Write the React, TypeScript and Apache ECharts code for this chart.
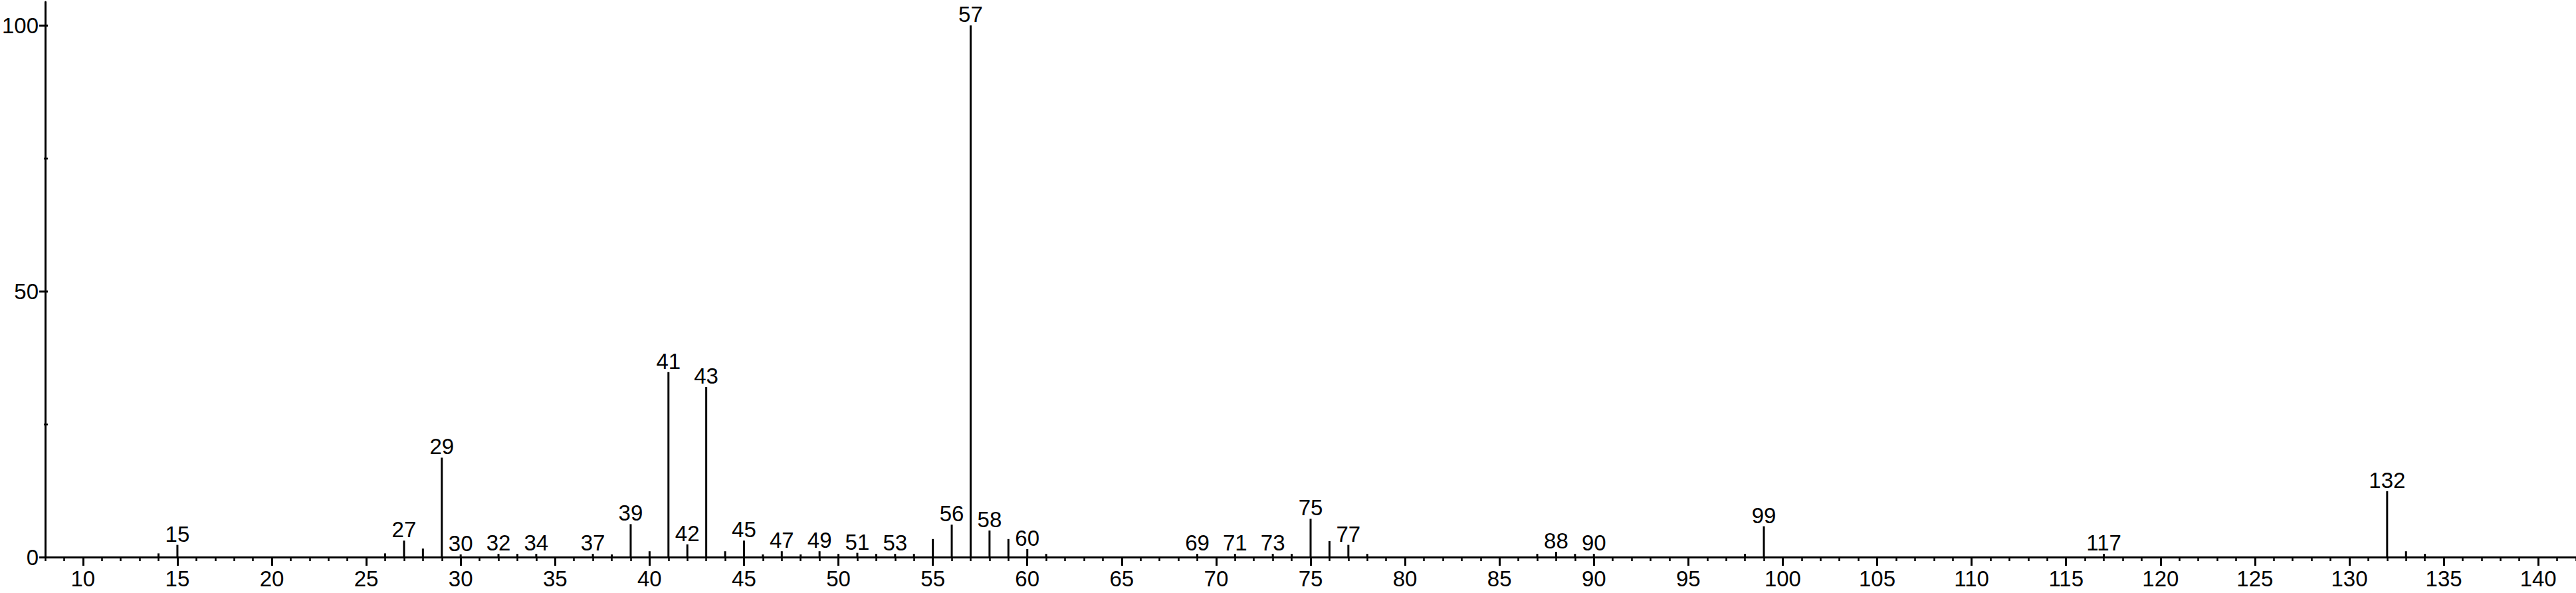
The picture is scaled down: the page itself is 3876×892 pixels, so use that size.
import React, { useEffect, useRef } from "react";
import * as echarts from "echarts";

// m/z range shown on the x axis
const massMin = 8;
const massMax = 142;

// Peaks (m/z) and relative intensities (%)
const peakMasses = [
  14, 15, 26, 27, 28, 29, 30, 32, 33, 34, 37, 38, 39, 40, 41, 42, 43, 44, 45, 46,
  47, 48, 49, 50, 51, 52, 53, 54, 55, 56, 57, 58, 59, 60, 61, 69, 71, 73, 74, 75,
  76, 77, 78, 87, 88, 89, 90, 98, 99, 117, 132, 133, 134,
];
const peakIntensities = [
  0.7, 2.3, 0.7, 3.1, 1.6, 18.7, 0.5, 0.6, 0.6, 0.6, 0.6, 0.5, 6.2, 1.1, 34.8, 2.4, 32.0, 1.1, 3.1, 0.5,
  1.1, 0.5, 1.1, 0.6, 0.8, 0.6, 0.6, 0.6, 3.4, 6.1, 100, 5.0, 3.4, 1.5, 0.6, 0.6, 0.6, 0.6, 0.6, 7.2,
  3.0, 2.3, 0.6, 0.6, 1.0, 0.6, 0.6, 0.6, 5.8, 0.6, 12.4, 1.1, 0.6,
];
// Peaks that carry an m/z label
const labeledMasses = [
  15, 27, 29, 30, 32, 34, 37, 39, 41, 42, 43, 45, 47, 49, 51, 53, 56, 57, 58, 60,
  69, 71, 73, 75, 77, 88, 90, 99, 117, 132,
];
// y axis
const yMax = 100;
const yLabelStep = 50;

const FONT = "'Liberation Sans', Arial, sans-serif";

export default function App() {
  const ref = useRef<HTMLDivElement>(null);

  useEffect(() => {
    document.body.style.margin = "0";
    const el = ref.current;
    if (!el) return;
    const chart = echarts.init(el, null, { renderer: "svg" });

    const categories: string[] = [];
    for (let m = massMin; m <= massMax; m++) categories.push(String(m));

    const data = categories.map((c) => {
      const m = Number(c);
      const i = peakMasses.indexOf(m);
      return {
        value: i >= 0 ? peakIntensities[i] : "-",
        label: { show: labeledMasses.includes(m) },
      };
    });

    const line = { color: "#000", width: 3 };
    const isMajor = (_i: number, v: string) => Number(v) % 5 === 0;

    chart.setOption({
      animation: false,
      backgroundColor: "#fff",
      textStyle: { fontFamily: FONT },
      grid: [
        { left: 68, right: 0, top: 3, bottom: 54 },
        { left: 68, right: 0, top: 38, bottom: 54 },
      ],
      xAxis: [
        {
          type: "category",
          gridIndex: 0,
          position: "bottom",
          data: categories,
          boundaryGap: false,
          axisLine: { show: true, onZero: false, lineStyle: line },
          axisTick: { show: true, interval: 0, length: 6, lineStyle: { color: "#000", width: 2.5 } },
          axisLabel: { show: false },
          splitLine: { show: false },
        },
        {
          type: "category",
          gridIndex: 0,
          position: "bottom",
          data: categories,
          boundaryGap: false,
          axisLine: { show: false, onZero: false },
          axisTick: { show: true, interval: isMajor, length: 13, lineStyle: line },
          axisLabel: {
            show: true,
            interval: isMajor,
            color: "#000",
            fontSize: 33,
            fontFamily: FONT,
            margin: 16,
          },
          splitLine: { show: false },
        },
        { type: "value", gridIndex: 1, show: false, min: 0, max: 1 },
      ],
      yAxis: [
        {
          type: "value",
          gridIndex: 0,
          min: 0,
          max: 104.4,
          axisLine: { show: true, onZero: false, lineStyle: line },
          axisTick: { show: false },
          axisLabel: { show: false },
          splitLine: { show: false },
        },
        {
          type: "value",
          gridIndex: 1,
          min: 0,
          max: yMax,
          interval: yLabelStep,
          axisLine: { show: false, onZero: false },
          axisTick: { show: true, length: 13, lineStyle: line },
          minorTick: { show: true, splitNumber: 2, length: 6, lineStyle: { color: "#000", width: 2.5 } },
          minorSplitLine: { show: false },
          axisLabel: { color: "#000", fontSize: 33, fontFamily: FONT, margin: 14 },
          splitLine: { show: false },
        },
      ],
      series: [
        {
          type: "bar",
          xAxisIndex: 0,
          yAxisIndex: 0,
          data,
          barWidth: 3,
          silent: true,
          itemStyle: { color: "#000" },
          label: {
            position: "top",
            distance: 0,
            formatter: "{b}",
            color: "#000",
            fontSize: 33,
            fontFamily: FONT,
          },
        },
      ],
    });

    return () => chart.dispose();
  }, []);

  return <div ref={ref} style={{ width: 3876, height: 892 }} />;
}
